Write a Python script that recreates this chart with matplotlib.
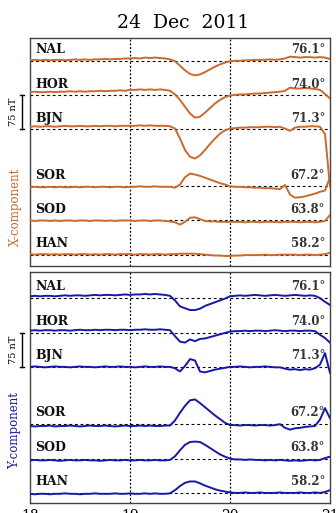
import matplotlib.pyplot as plt
import numpy as np

# Время (UT, часы), шаг 0.05 ч
t = np.round(np.arange(18.0, 21.001, 0.05), 2)

stations = ['NAL', 'HOR', 'BJN', 'SOR', 'SOD', 'HAN']
lats = ['76.1°', '74.0°', '71.3°', '67.2°', '63.8°', '58.2°']
offsets = [0, -75, -150, -275, -350, -425]

# X-компонента, нТл относительно базовой линии станции
nal_x = [2, 3, 2, 3, 2, 3, 3, 2, 3, 4, 3, 4, 3, 4, 4, 5, 4, 5, 5, 6,
         6, 7, 6, 8, 7, 8, 7, 6, 4, 0,
         -10, -20, -28, -31, -29, -24, -18, -12, -7, -3, 0,
         1, 1, 2, 2, 3, 3, 3, 4, 3, 4, 6, 10,
         9, 8, 9, 9, 8, 9, 8, 5]
hor_x = [7, 8, 7, 7, 8, 7, 8, 8, 9, 8, 9, 8, 9, 9, 10, 9, 10, 10, 11, 10,
         12, 12, 13, 12, 13, 12, 13, 12, 10, 2,
         -10, -25, -40, -49, -47, -38, -28, -18, -10, -4, 0,
         1, 2, 2, 3, 4, 4, 5, 6, 7, 8, 10, 17,
         15, 15, 16, 15, 14, 12, 3, -7]
bjn_x = [6, 7, 6, 7, 7, 6, 7, 8, 7, 7, 8, 7, 7, 8, 7, 8, 8, 7, 8, 8,
         8, 8, 9, 8, 9, 8, 8, 8, 7, 2,
         -20, -45, -60, -64, -57, -45, -32, -20, -9, -2, 2,
         3, 4, 4, 5, 5, 5, 6, 6, 5, 6, 2, -3,
         4, 6, 6, 7, 7, 6, -10, -125]
sor_x = [-2, -1, -2, -2, -1, -2, -1, -2, -2, -1, -2, -1, -1, -2, -1, -1, -2, -1, -1, -2,
         -1, -1, 0, -1, -1, 0, -1, -1, -1, -3,
         4, 20, 28, 26, 23, 19, 15, 11, 7, 4, 0,
         -1, -1, -2, -2, -3, -3, -4, -4, -5, -6, 3, -18,
         -25, -24, -22, -19, -16, -12, -9, 20]
sod_x = [0, -1, 0, 0, -1, 0, -1, 0, 0, -1, 0, 0, -1, 0, 0, -1, 0, -1, 0, 0,
         0, -1, 0, 0, -1, 0, 0, -1, -2, -4,
         -9, -3, 6, 7, 3, -1, -2, -2, -3, -3, -3,
         -3, -3, -4, -3, -3, -4, -3, -3, -3, -4, -3, -3,
         -3, -4, -3, -3, -4, -3, -1, 12]
han_x = [1, 0, 1, 1, 0, 1, 0, 1, 1, 0, 1, 1, 0, 1, 0, 1, 1, 0, 1, 1,
         1, 0, 1, 1, 0, 1, 1, 0, 1, 1,
         2, 2, 2, 2, 1, 0, -1, -2, -2, -3, -3,
         -2, -2, -1, -1, -1, -1, 0, -1, -1, 0, 0, 0,
         0, -1, 0, 0, -1, 0, 1, 4]

# Y-компонента
nal_y = [4, 5, 4, 5, 5, 4, 5, 6, 5, 6, 6, 5, 6, 7, 6, 7, 7, 6, 7, 8,
         7, 8, 8, 9, 8, 9, 8, 7, 5, -5,
         -18, -22, -26, -26, -23, -17, -13, -9, -5, -1, 4,
         5, 6, 5, 6, 7, 6, 5, 6, 7, 6, 5, 6,
         7, 6, 5, 6, 5, 0, -8, -15]
hor_y = [4, 5, 4, 5, 5, 4, 5, 5, 4, 5, 6, 5, 5, 6, 5, 6, 6, 5, 6, 6,
         5, 6, 6, 7, 6, 6, 7, 6, 5, -8,
         -20, -22, -15, -19, -14, -13, -10, -7, -4, -1, 2,
         3, 3, 4, 3, 4, 4, 3, 4, 5, 4, 3, 4,
         4, 3, 4, 4, 3, -5, -12, -22]
bjn_y = [0, 1, 0, -1, 0, 1, 0, 0, -1, 0, 1, 0, 0, -1, 0, 1, 0, 0, 1, 0,
         0, -1, 0, 1, 0, 0, 1, 0, 0, -3,
         -10, 2, 17, 14, -10, -12, -9, -6, -4, -2, 0,
         0, 1, 0, -1, 0, 0, 1, 0, -1, -1, -4, -6,
         -5, -7, -5, -6, -3, 5, 30, -13]
sor_y = [-4, -5, -4, -4, -3, -5, -4, -4, -3, -4, -5, -4, -3, -4, -4, -3, -4, -5, -4, -3,
         -4, -4, -3, -4, -3, -4, -4, -3, -3, 8,
         25, 40, 52, 54, 46, 37, 28, 19, 11, 3, -2,
         -2, -3, -2, -2, -3, -2, -2, -3, -2, 0, -8, -12,
         -9, -8, -6, -5, -4, 10, 35, 13]
sod_y = [-4, -3, -4, -4, -3, -4, -5, -4, -3, -4, -4, -3, -4, -4, -5, -4, -3, -4, -4, -3,
         -4, -4, -3, -4, -4, -3, -4, -4, -3, 5,
         18, 30, 36, 37, 36, 30, 23, 16, 9, 4, 0,
         -2, -2, -3, -2, -3, -3, -4, -3, -4, -3, -4, -5,
         -4, -5, -4, -3, -4, -3, 1, 4]
han_y = [-2, -3, -2, -2, -3, -2, -2, -1, -2, -2, -3, -2, -2, -1, -2, -2, -2, -1, -2, -2,
         -1, -2, -2, -1, -2, -1, -2, -2, -1, 6,
         15, 22, 25, 25, 21, 16, 12, 8, 5, 3, 1,
         0, 0, 1, 0, 0, 1, 0, 0, 0, 1, 0, 0,
         0, 1, 0, 0, 1, 0, 2, 6]

x_data = [nal_x, hor_x, bjn_x, sor_x, sod_x, han_x]
y_data = [nal_y, hor_y, bjn_y, sor_y, sod_y, han_y]

orange = '#C96A2E'
blue = '#1818A8'
serif = 'DejaVu Serif'


def draw_panel(ax, data, color, ylim):
    for name, lat, off, vals in zip(stations, lats, offsets, data):
        ax.axhline(off, color='k', lw=0.8, ls=(0, (2.5, 2.5)), zorder=1)
        ax.plot(t, np.array(vals) + off, color=color, lw=1.4, zorder=3)
        ax.text(18.05, off + 17, name, fontsize=9, fontweight='bold',
                family=serif, color='#111111')
        ax.text(20.95, off + 17, lat, fontsize=8.5, fontweight='bold',
                family=serif, color='#333333', ha='right')
    ax.axvline(19, color='k', lw=0.9, ls=(0, (1.5, 1.5)), zorder=1)
    ax.axvline(20, color='k', lw=0.9, ls=(0, (1.5, 1.5)), zorder=1)
    ax.set_xlim(18, 21)
    ax.set_ylim(*ylim)
    ax.set_yticks([])
    ax.tick_params(axis='x', length=0, pad=4, labelsize=10)
    for s in ax.spines.values():
        s.set_color('#444444')
        s.set_linewidth(1.0)
    # масштаб 75 нТл
    ax.plot([17.92, 17.92], [-75, -150], color='k', lw=1, clip_on=False)
    ax.plot([17.90, 17.94], [-75, -75], color='k', lw=1, clip_on=False)
    ax.plot([17.90, 17.94], [-150, -150], color='k', lw=1, clip_on=False)
    ax.text(17.84, -112, '75 nT', rotation=90, fontsize=7, family=serif,
            ha='center', va='center')


fig = plt.figure(figsize=(3.36, 5.13), dpi=100)

ax1 = fig.add_axes([30 / 336, 1 - 266 / 513, 300 / 336, 228 / 513])
draw_panel(ax1, x_data, orange, (-450, 51))
ax1.set_xticks([])

ax2 = fig.add_axes([30 / 336, 1 - 503 / 513, 300 / 336, 231 / 513])
draw_panel(ax2, y_data, blue, (-447, 57))
ax2.set_xticks([18, 19, 20, 21])
ax2.set_xticklabels(['18', '19', '20', '21'], family=serif)

fig.text(183 / 336, 1 - 23 / 513, '24  Dec  2011', ha='center', va='center',
         fontsize=13.5, family=serif)
fig.text(15 / 336, 1 - 207 / 513, 'X-component', rotation=90, color=orange,
         fontsize=8.5, family=serif, ha='center', va='center')
fig.text(15 / 336, 1 - 431 / 513, 'Y-component', rotation=90, color=blue,
         fontsize=8.5, family=serif, ha='center', va='center')

fig.savefig('out.png', dpi=100)
